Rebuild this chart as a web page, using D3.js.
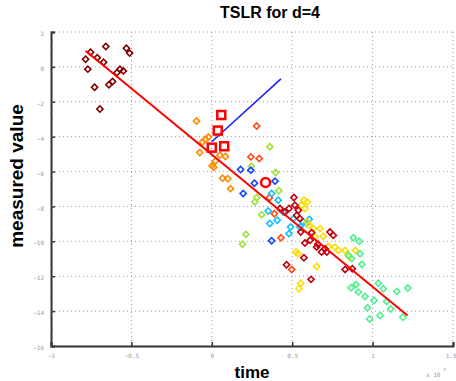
<!DOCTYPE html>
<html>
<head>
<meta charset="utf-8">
<script src="https://cdn.jsdelivr.net/npm/d3@7"></script>
<style>
  body { margin: 0; background: #fff; }
  svg { display: block; font-family: "Liberation Sans", Arial, sans-serif; }
</style>
</head>
<body>
<div id="chart"></div>
<script>
// tick values (x is in units of 10^5)
const xTicks = [-1, -0.5, 0, 0.5, 1, 1.5];
const yTicks = [2, 0, -2, -4, -6, -8, -10, -12, -14, -16];

// scatter groups: [x, y]
const darkRedEarly = [[-0.785,0.44],[-0.771,-0.13],[-0.754,0.84],[-0.729,-1.17],[-0.712,0.53],[-0.696,-2.41],
  [-0.673,0.27],[-0.659,1.17],[-0.640,-1.02],[-0.617,-0.84],[-0.590,-0.33],[-0.571,-0.13],[-0.550,-0.23],
  [-0.531,1.07],[-0.511,0.79]];
const orange = [[-0.095,-3.10],[-0.075,-4.91],[-0.058,-4.31],[-0.039,-4.16],[-0.022,-4.02],[0.002,-5.66],
  [0.022,-5.40],[0.050,-5.06],[0.085,-5.14],[0.067,-6.38],[0.100,-6.41],[0.117,-6.98],[0.012,-5.75]];
const orangeRed = [[0.279,-3.39],[0.243,-5.16],[0.295,-5.25],[0.358,-7.50],[0.389,-8.42],[0.430,-9.80],[0.497,-11.61]];
const yellowGreen = [[0.361,-4.58],[0.397,-6.05],[0.246,-5.69],[0.417,-7.10],[0.280,-7.49],[0.268,-7.74],
  [0.310,-8.48],[0.212,-9.60],[0.191,-10.17]];
const blue = [[0.179,-5.88],[0.243,-5.92],[0.265,-6.67],[0.393,-6.55],[0.195,-7.26],[0.372,-9.97]];
const skyBlue = [[0.372,-7.26],[0.413,-7.64],[0.351,-8.26],[0.361,-8.98],[0.407,-8.79],[0.444,-8.32],
  [0.480,-9.56],[0.490,-9.18],[0.507,-8.70],[0.569,-8.89],[0.590,-8.98],[0.606,-8.74],[0.548,-9.18]];
const darkRed = [[0.424,-8.12],[0.455,-8.32],[0.480,-8.12],[0.517,-7.93],[0.511,-7.49],[0.538,-8.22],
  [0.548,-8.70],[0.528,-8.51],[0.579,-10.10],[0.553,-9.47],[0.621,-9.50],[0.652,-10.33],[0.683,-10.61],
  [0.715,-10.61],[0.704,-10.42],[0.735,-9.47],[0.756,-9.66],[0.573,-10.94],[0.465,-11.34],[0.617,-12.18],
  [0.829,-11.61],[0.874,-11.57],[0.611,-9.94],[0.660,-10.17]];
const yellow = [[0.573,-7.64],[0.559,-7.93],[0.594,-7.74],[0.579,-8.12],[0.594,-8.89],[0.606,-9.08],
  [0.631,-9.27],[0.673,-9.27],[0.642,-9.75],[0.693,-9.71],[0.725,-10.29],[0.766,-10.33],[0.787,-10.52],
  [0.829,-10.52],[0.855,-10.90],[0.893,-10.52],[0.523,-10.61],[0.538,-10.71],[0.652,-11.44],[0.553,-12.40],
  [0.542,-12.72]];
const springGreen = [[0.880,-9.79],[0.916,-10.00],[0.922,-10.71],[0.849,-10.80],[0.870,-10.99],[0.933,-11.32],
  [0.866,-12.66],[0.897,-12.47],[0.912,-12.91],[0.953,-13.16],[1.009,-13.39],[0.968,-13.81],[1.036,-12.40],
  [1.067,-12.72],[1.087,-13.45],[1.113,-13.88],[1.047,-14.25],[0.981,-14.45],[1.151,-12.87],[1.219,-12.68],
  [1.188,-14.35]];
const squares = [[0.059,-2.76],[0.037,-3.65],[0.0,-4.63],[0.077,-4.55]];
const circles = [[0.334,-6.63]];

// fitted lines
const redLine = [[-0.785,0.92],[1.217,-14.25]];
const blueLine = [[0.0,-4.29],[0.43,-0.69]];

const groups = [
  { data: darkRedEarly, color: "#800000" },
  { data: orange, color: "#ff8c00" },
  { data: yellowGreen, color: "#9ee33a" },
  { data: blue, color: "#1446ff" },
  { data: orangeRed, color: "#ff4a10" },
  { data: skyBlue, color: "#10c0ff" },
  { data: yellow, color: "#ffdd00" },
  { data: darkRed, color: "#c00010" },
  { data: springGreen, color: "#50f090" }
];

const width = 456, height = 381;
const svg = d3.select("#chart").append("svg")
  .attr("width", width)
  .attr("height", height);

const x = d3.scaleLinear().domain([-1, 1.5]).range([51, 453]);
const y = d3.scaleLinear().domain([-16, 2]).range([346, 32]);

// grid
const grid = svg.append("g").attr("stroke", "#999").attr("stroke-width", 1).attr("stroke-dasharray", "1,3");
grid.selectAll(".gx").data(xTicks.slice(1)).enter().append("line")
  .attr("x1", d => x(d)).attr("x2", d => x(d)).attr("y1", y(2)).attr("y2", y(-16));
grid.selectAll(".gy").data(yTicks.slice(0, -1)).enter().append("line")
  .attr("x1", x(-1)).attr("x2", x(1.5)).attr("y1", d => y(d)).attr("y2", d => y(d));

// axes
const xAxis = d3.axisBottom(x).tickValues(xTicks).tickSize(-4).tickPadding(8)
  .tickFormat(d => String(d).replace("-", "\u2212"));
const yAxis = d3.axisLeft(y).tickValues(yTicks).tickSize(-4).tickPadding(7)
  .tickFormat(d => String(d).replace("-", "\u2212"));

const gx = svg.append("g").attr("transform", `translate(0,${y(-16)})`).call(xAxis);
const gy = svg.append("g").attr("transform", `translate(${x(-1)},0)`).call(yAxis);
[gx, gy].forEach(g => {
  g.select(".domain").attr("stroke", "#333").attr("stroke-width", 2);
  g.selectAll(".tick line").attr("stroke", "#333").attr("stroke-width", 1.5);
  g.selectAll(".tick text").attr("fill", "#999").style("font-size", "6px")
    .style("font-family", "'DejaVu Sans Mono', monospace");
});
gy.selectAll(".tick text").attr("dy", "0.6em");
// last x label sits on the edge, keep it inside the window
gx.selectAll(".tick text").filter(d => d === 1.5).attr("text-anchor", "end").attr("dx", 3);

// minor ticks on y axis
gy.selectAll(".minor").data(d3.range(-16, 2.01, 0.5)).enter().append("line")
  .attr("x1", 0).attr("x2", 2).attr("y1", d => y(d)).attr("y2", d => y(d))
  .attr("stroke", "#555").attr("stroke-width", 1);

// lines
const line = d3.line().x(d => x(d[0])).y(d => y(d[1]));
svg.append("path").datum(blueLine).attr("d", line).attr("fill", "none")
  .attr("stroke", "#1a1aff").attr("stroke-width", 1.5);

// diamonds
const diamond = d3.symbol().type(d3.symbolSquare).size(19);
groups.forEach(gr => {
  svg.append("g").selectAll("path").data(gr.data).enter().append("path")
    .attr("d", diamond)
    .attr("transform", d => `translate(${x(d[0])},${y(d[1])}) rotate(45)`)
    .attr("fill", "none")
    .attr("stroke", gr.color)
    .attr("stroke-width", 1.6);
});

svg.append("path").datum(redLine).attr("d", line).attr("fill", "none")
  .attr("stroke", "#ff0000").attr("stroke-width", 2);

// squares and circle
svg.append("g").selectAll("rect").data(squares).enter().append("rect")
  .attr("x", d => x(d[0]) - 4).attr("y", d => y(d[1]) - 4)
  .attr("width", 8).attr("height", 8)
  .attr("fill", "none").attr("stroke", "#ff0000").attr("stroke-width", 2.5);
svg.append("g").selectAll("circle").data(circles).enter().append("circle")
  .attr("cx", d => x(d[0])).attr("cy", d => y(d[1])).attr("r", 4.5)
  .attr("fill", "none").attr("stroke", "#ff0000").attr("stroke-width", 2.5);

// texts
svg.append("text").attr("x", 270).attr("y", 18).attr("text-anchor", "middle")
  .style("font-size", "16px").style("font-weight", "bold").text("TSLR for d=4");
svg.append("text").attr("x", 252).attr("y", 378).attr("text-anchor", "middle")
  .style("font-size", "17px").style("font-weight", "bold").text("time");
svg.append("text").attr("transform", "translate(23,176) rotate(-90)").attr("text-anchor", "middle")
  .style("font-size", "19px").style("font-weight", "bold").text("measured value");
const exp = svg.append("text").attr("x", 426).attr("y", 377).attr("fill", "#999")
  .style("font-size", "6px").style("font-family", "'DejaVu Sans Mono', monospace");
exp.append("tspan").text("x 10");
exp.append("tspan").attr("dx", 3).attr("dy", -6).style("font-size", "4px").text("5");
</script>
</body>
</html>
